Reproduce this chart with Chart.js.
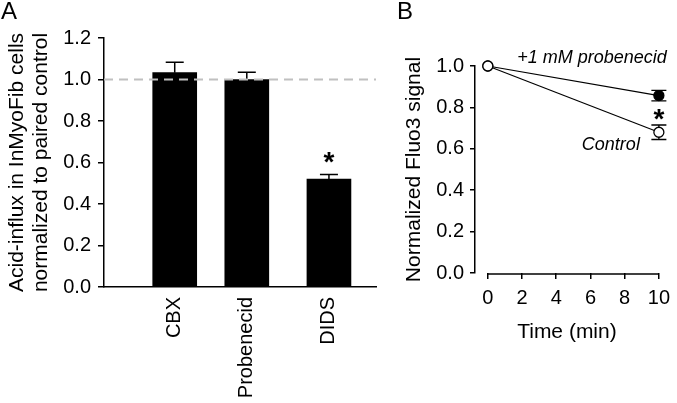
<!DOCTYPE html>
<html>
<head>
<meta charset="utf-8">
<script src="https://cdn.jsdelivr.net/npm/chart.js@4.4.0/dist/chart.umd.min.js"></script>
<style>
body { margin: 0; background: #fff; }
#wrapA { position: absolute; left: 0; top: 0; }
#wrapB { position: absolute; left: 380px; top: 0; }
</style>
</head>
<body>
<div id="wrapA"><canvas id="chartA" width="380" height="403"></canvas></div>
<div id="wrapB"><canvas id="chartB" width="297" height="403"></canvas></div>
<script>
// panel A
const treatments = ['CBX', 'Probenecid', 'DIDS'];
const treatmentX = [2.6, 5.25, 8.27];   // where each bar sits on the 0..10 x scale
const acidInflux = [1.033, 1.0, 0.52];
const acidInfluxErr = [0.05, 0.035, 0.022];
const acidTicks = [0, 0.2, 0.4, 0.6, 0.8, 1.0, 1.2];

// panel B
const timeMin = [0, 10];
const fluoControl = [1.0, 0.68];
const fluoControlErr = [0, 0.035];
const fluoProbenecid = [1.0, 0.857];
const fluoProbenecidErr = [0, 0.025];
const timeTicks = [0, 2, 4, 6, 8, 10];
const fluoTicks = [0, 0.2, 0.4, 0.6, 0.8, 1.0];

const FONT = "'Liberation Sans', Arial, sans-serif";
Chart.defaults.font.family = FONT;
Chart.defaults.color = '#000';

const panelA = {
    id: 'panelA',
    afterDatasetsDraw(chart) {
        const {ctx, chartArea, scales: {x, y}} = chart;
        ctx.save();
        // error bars (upper half only, the rest is hidden by the bar)
        ctx.strokeStyle = '#000';
        ctx.lineWidth = 1.5;
        treatmentX.forEach((tx, i) => {
            const px = x.getPixelForValue(tx);
            const base = y.getPixelForValue(acidInflux[i]);
            const top = y.getPixelForValue(acidInflux[i] + acidInfluxErr[i]);
            ctx.beginPath();
            ctx.moveTo(px, base);
            ctx.lineTo(px, top);
            ctx.moveTo(px - 9, top);
            ctx.lineTo(px + 9, top);
            ctx.stroke();
        });
        // dashed line at 1.0
        const y1 = y.getPixelForValue(1.0);
        ctx.strokeStyle = '#c0c0c0';
        ctx.lineWidth = 2;
        ctx.setLineDash([9, 6]);
        ctx.beginPath();
        ctx.moveTo(chartArea.left, y1);
        ctx.lineTo(chartArea.right, y1);
        ctx.stroke();
        ctx.setLineDash([]);
        // asterisk over DIDS
        const d = 2;
        ctx.fillStyle = '#000';
        ctx.font = 'bold 28px ' + FONT;
        ctx.textAlign = 'center';
        ctx.textBaseline = 'middle';
        ctx.fillText('*', x.getPixelForValue(treatmentX[d]), y.getPixelForValue(acidInflux[d] + acidInfluxErr[d]) - 11);
        // panel letter
        ctx.font = '24px ' + FONT;
        ctx.textAlign = 'left';
        ctx.textBaseline = 'top';
        ctx.fillText('A', 1, 0);
        ctx.restore();
    }
};

const panelB = {
    id: 'panelB',
    beforeDatasetsDraw(chart) {
        const {ctx, chartArea, scales: {x, y}} = chart;
        ctx.save();
        ctx.strokeStyle = '#000';
        // x axis only spans 0..10
        ctx.lineWidth = 1.5;
        ctx.beginPath();
        ctx.moveTo(x.getPixelForValue(timeTicks[0]), chartArea.bottom + 1);
        ctx.lineTo(x.getPixelForValue(timeTicks[timeTicks.length - 1]), chartArea.bottom + 1);
        ctx.stroke();
        // error bars
        ctx.lineWidth = 1.3;
        [[fluoControl, fluoControlErr], [fluoProbenecid, fluoProbenecidErr]].forEach(([vals, errs]) => {
            timeMin.forEach((t, i) => {
                if (!errs[i]) return;
                const px = x.getPixelForValue(t);
                const hi = y.getPixelForValue(vals[i] + errs[i]);
                const lo = y.getPixelForValue(vals[i] - errs[i]);
                ctx.beginPath();
                ctx.moveTo(px, lo);
                ctx.lineTo(px, hi);
                ctx.moveTo(px - 7.5, hi);
                ctx.lineTo(px + 7.5, hi);
                ctx.moveTo(px - 7.5, lo);
                ctx.lineTo(px + 7.5, lo);
                ctx.stroke();
            });
        });
        ctx.restore();
    },
    afterDraw(chart) {
        const {ctx, chartArea, scales: {x, y}} = chart;
        const last = timeMin.length - 1;
        ctx.save();
        ctx.fillStyle = '#000';
        ctx.font = 'italic 18px ' + FONT;
        ctx.textAlign = 'right';
        ctx.textBaseline = 'middle';
        ctx.fillText('+1 mM probenecid', chartArea.right + 8, y.getPixelForValue(1.0) - 8);
        ctx.fillText('Control', x.getPixelForValue(timeMin[last]) - 19, y.getPixelForValue(fluoControl[last]) + 13);
        ctx.font = 'bold 28px ' + FONT;
        ctx.textAlign = 'center';
        const mid = (fluoControl[last] + fluoProbenecid[last]) / 2;
        ctx.fillText('*', x.getPixelForValue(timeMin[last]), y.getPixelForValue(mid) + 6);
        ctx.font = '24px ' + FONT;
        ctx.textAlign = 'left';
        ctx.textBaseline = 'top';
        ctx.fillText('B', 17, 0);
        ctx.restore();
    }
};

new Chart(document.getElementById('chartA'), {
    type: 'bar',
    data: {
        datasets: [{
            data: treatmentX.map((tx, i) => ({x: tx, y: acidInflux[i]})),
            backgroundColor: '#000',
            barThickness: 44
        }]
    },
    options: {
        responsive: false,
        animation: false,
        layout: {padding: {top: 38, right: 4, left: 0, bottom: 0}},
        plugins: {legend: {display: false}, tooltip: {enabled: false}},
        scales: {
            x: {
                type: 'linear',
                min: 0,
                max: 10,
                offset: false,
                afterBuildTicks: s => { s.ticks = treatmentX.map(v => ({value: v})); },
                afterFit: s => { s.height = 116; },
                grid: {display: false, drawTicks: false, offset: false},
                border: {color: '#000', width: 1.5},
                ticks: {
                    callback: (v, i) => treatments[i],
                    autoSkip: false,
                    minRotation: 90,
                    maxRotation: 90,
                    padding: 10,
                    font: {size: 20}
                }
            },
            y: {
                min: 0,
                max: 1.2,
                afterBuildTicks: s => { s.ticks = acidTicks.map(v => ({value: v})); },
                afterFit: s => { s.width = 104; },
                grid: {drawOnChartArea: false, tickLength: 6, color: '#000', lineWidth: 1.5},
                border: {color: '#000', width: 1.5},
                ticks: {padding: 7, font: {size: 20}, callback: v => v.toFixed(1)},
                title: {
                    display: true,
                    text: ['Acid-influx in InMyoFib cells', 'normalized to paired control'],
                    font: {size: 21, lineHeight: 1.15},
                    padding: {top: 5, bottom: 0}
                }
            }
        }
    },
    plugins: [panelA]
});

new Chart(document.getElementById('chartB'), {
    type: 'line',
    data: {
        datasets: [{
            label: 'Control',
            data: timeMin.map((t, i) => ({x: t, y: fluoControl[i]})),
            borderColor: '#000',
            borderWidth: 1.2,
            pointRadius: 5,
            pointBorderWidth: 1.3,
            pointBorderColor: '#000',
            pointBackgroundColor: '#fff',
            clip: false
        }, {
            label: '+1 mM probenecid',
            data: timeMin.map((t, i) => ({x: t, y: fluoProbenecid[i]})),
            borderColor: '#000',
            borderWidth: 1.2,
            pointRadius: 5,
            pointBorderWidth: 1.3,
            pointBorderColor: '#000',
            pointBackgroundColor: '#000',
            clip: false
        }]
    },
    options: {
        responsive: false,
        animation: false,
        layout: {padding: {top: 66, right: 11, left: 0, bottom: 0}},
        plugins: {legend: {display: false}, tooltip: {enabled: false}},
        scales: {
            x: {
                type: 'linear',
                min: -0.75,
                max: 10,
                afterBuildTicks: s => { s.ticks = timeTicks.map(v => ({value: v})); },
                afterFit: s => { s.height = 130; },
                grid: {drawOnChartArea: false, tickLength: 6, color: '#000', lineWidth: 1.5},
                border: {display: false},
                ticks: {padding: 7, font: {size: 20}, maxRotation: 0},
                title: {display: true, text: 'Time (min)', font: {size: 21}, padding: {top: 0, bottom: 58}}
            },
            y: {
                min: 0,
                max: 1,
                afterBuildTicks: s => { s.ticks = fluoTicks.map(v => ({value: v})); },
                afterFit: s => { s.width = 95; },
                grid: {drawOnChartArea: false, tickLength: 5, color: '#000', lineWidth: 1.5},
                border: {color: '#000', width: 1.5},
                ticks: {padding: 6, font: {size: 20}, callback: v => v.toFixed(1)},
                title: {display: true, text: 'Normalized Fluo3 signal', font: {size: 21}, padding: {top: 22, bottom: 0}}
            }
        }
    },
    plugins: [panelB]
});
</script>
</body>
</html>
